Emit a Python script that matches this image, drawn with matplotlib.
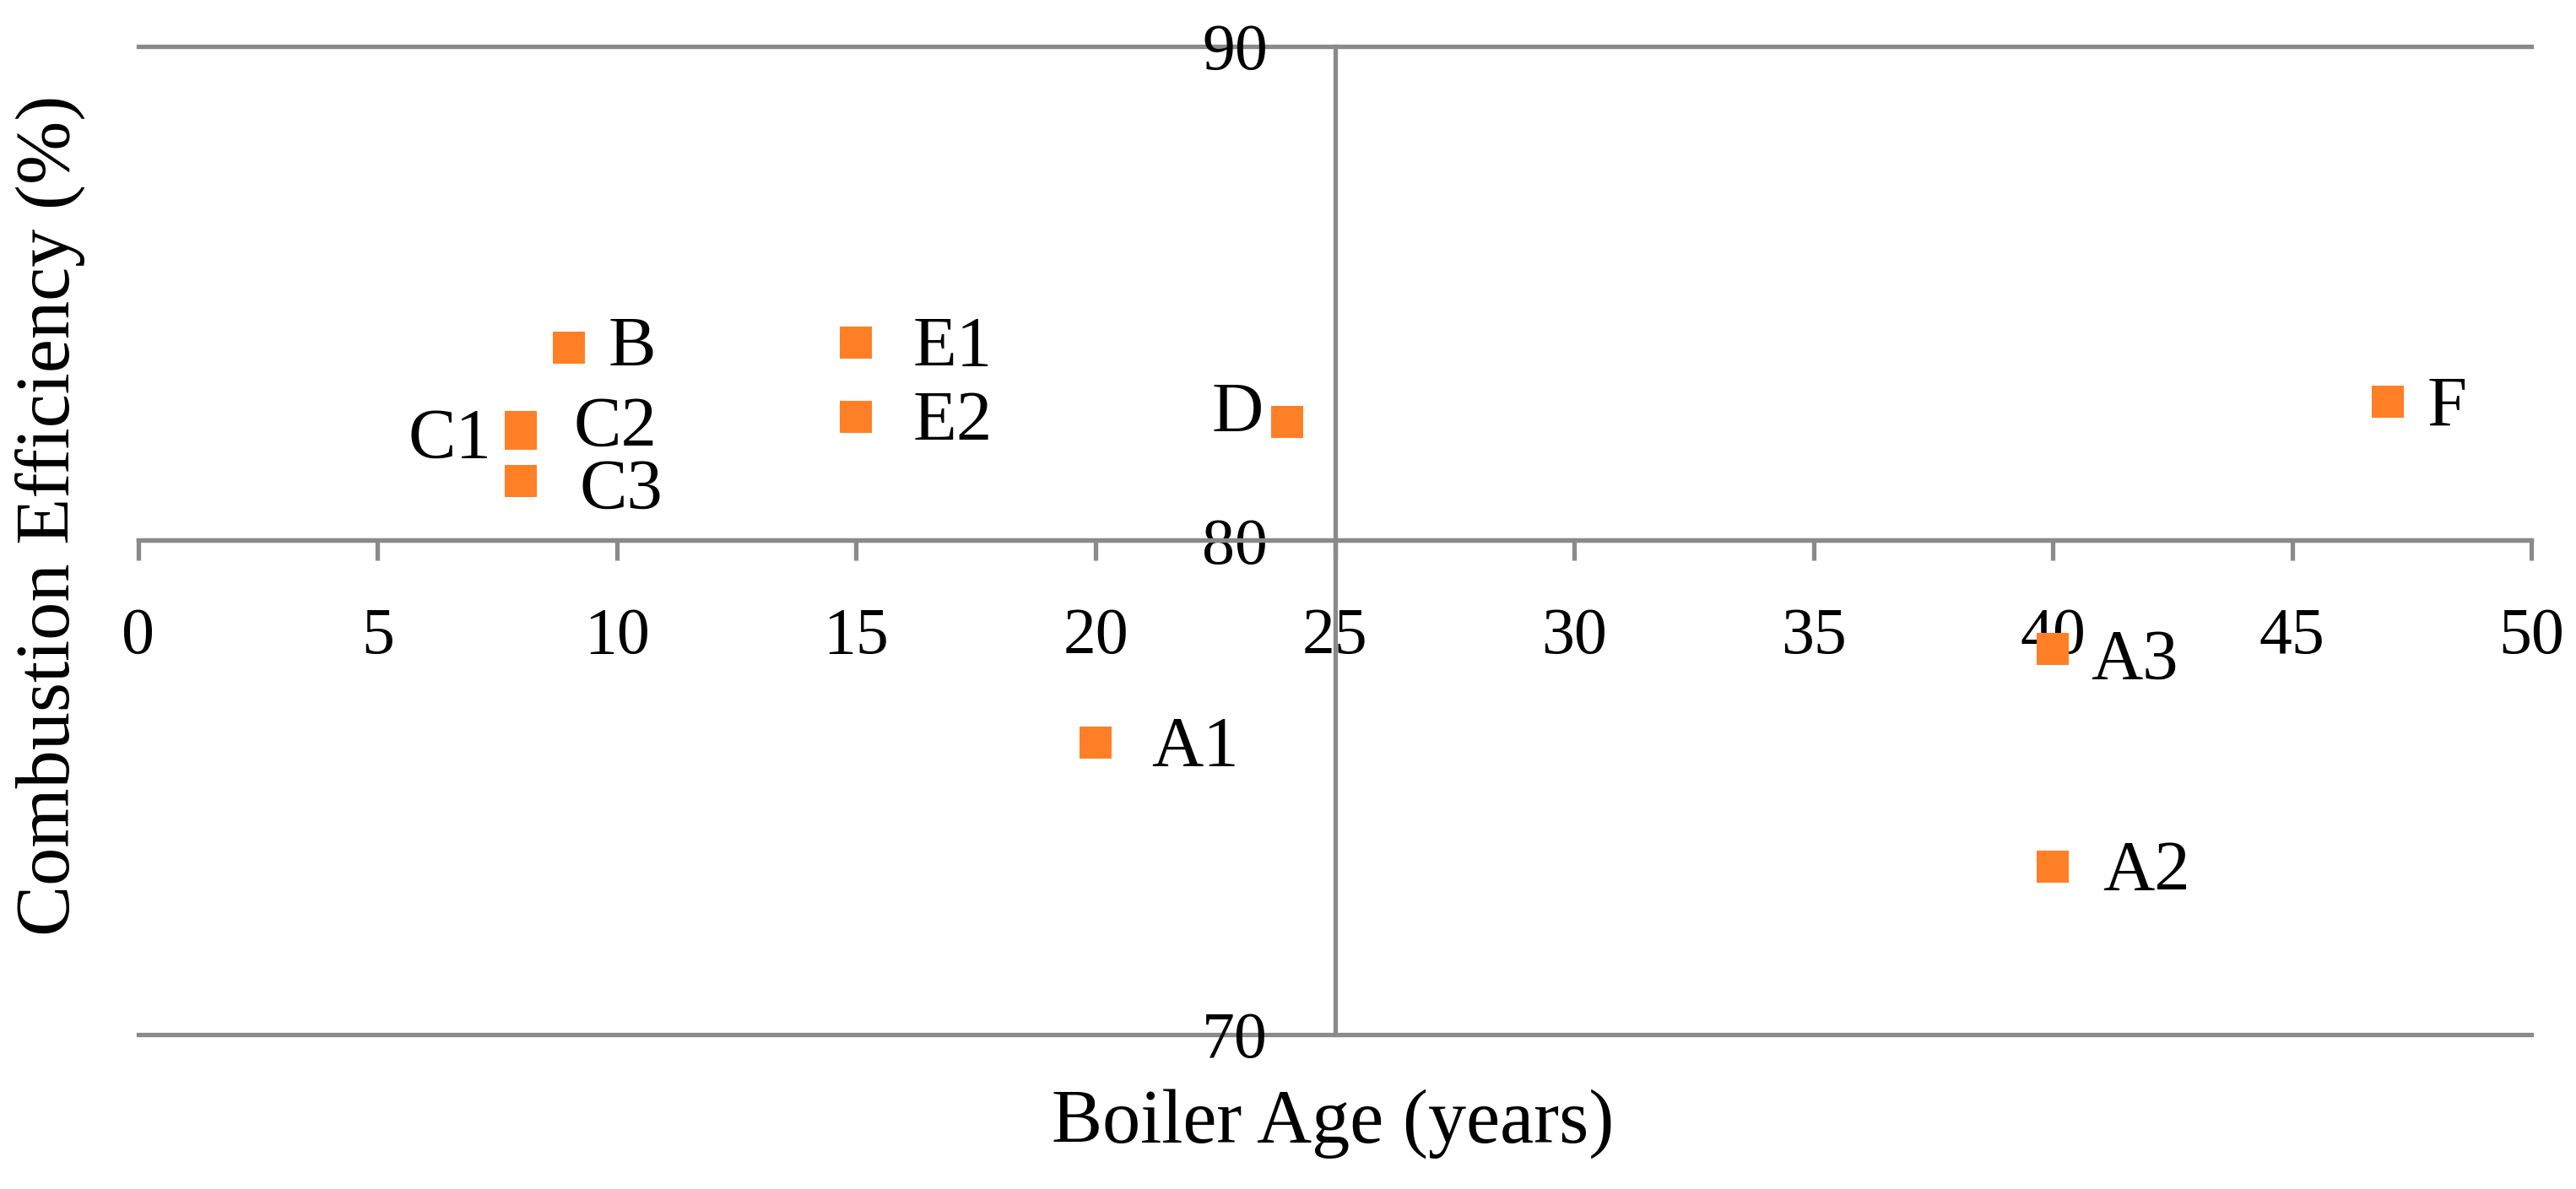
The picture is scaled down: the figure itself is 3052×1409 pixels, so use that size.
import numpy as np
import matplotlib
matplotlib.use('Agg')
import matplotlib.pyplot as plt

# Datos
boilers = ['A1', 'A2', 'A3', 'B', 'C1', 'C2', 'C3', 'D', 'E1', 'E2', 'F']
ages = [20, 40, 40, 9, 8, 8, 8, 24, 15, 15, 47]
efficiency = [75.9, 73.4, 77.8, 83.9, 82.15, 82.3, 81.2, 82.4, 84.0, 82.5, 82.8]

x_ticks = [0, 5, 10, 15, 20, 25, 30, 35, 40, 45, 50]
y_ticks = [70, 80, 90]

# label placement (pixels from marker centre): dx, dy, side
label_pos = {
    'A1': (66, 0, 'left'), 'A2': (59, 0, 'left'), 'A3': (45, -8, 'left'),
    'B': (46, 6, 'left'), 'C1': (-35, 0, 'right'), 'C2': (62, 5, 'left'),
    'C3': (69, -5, 'left'), 'D': (-28, 16, 'right'), 'E1': (67, 0, 'left'),
    'E2': (67, 0, 'left'), 'F': (46, 0, 'left'),
}

plt.rcParams['font.family'] = ['Liberation Serif', 'DejaVu Serif']
gris = '#8A8A8A'
naranja = '#FF7F27'

fig = plt.figure(figsize=(15.26, 7.045), dpi=200)
ax = fig.add_axes([0.05367, 0.12988, 0.9291, 0.83144])

ax.plot(ages, efficiency, 's', color=naranja, markersize=13.7,
        markeredgewidth=0, zorder=3)

for name, x, y in zip(boilers, ages, efficiency):
    dx, dy, ha = label_pos[name]
    ax.annotate(name, (x, y), xytext=(dx, dy - 28), textcoords='offset pixels',
                ha=ha, va='baseline', fontsize=30.5, color='black')

ax.set_xlim(0, 50)
ax.set_ylim(70, 90)
ax.set_xticks(x_ticks)
ax.set_yticks(y_ticks)

ax.spines['top'].set_visible(False)
ax.spines['right'].set_visible(False)
ax.spines['left'].set_position(('data', 25))
ax.spines['bottom'].set_position(('data', 80))
for s in ['left', 'bottom']:
    ax.spines[s].set_color(gris)
    ax.spines[s].set_linewidth(1.9)

ax.grid(axis='y', color=gris, linewidth=1.9)
for line in ax.get_ygridlines():
    line.set_clip_on(False)
ax.set_axisbelow(True)

ax.tick_params(axis='x', direction='out', length=8.6, width=1.9, color=gris,
               pad=20, labelsize=28)
ax.tick_params(axis='y', length=0, pad=28.6, labelsize=28)

fig.text(1579 / 3052, 1 - 1354 / 1409, 'Boiler Age (years)', ha='center',
         va='baseline', fontsize=32.5)
fig.text(59 / 3052, 1 - 611 / 1409, 'Combustion Efficiency (%)', rotation=90,
         ha='center', va='center', fontsize=32.5)

plt.savefig('out.png', dpi=200)
